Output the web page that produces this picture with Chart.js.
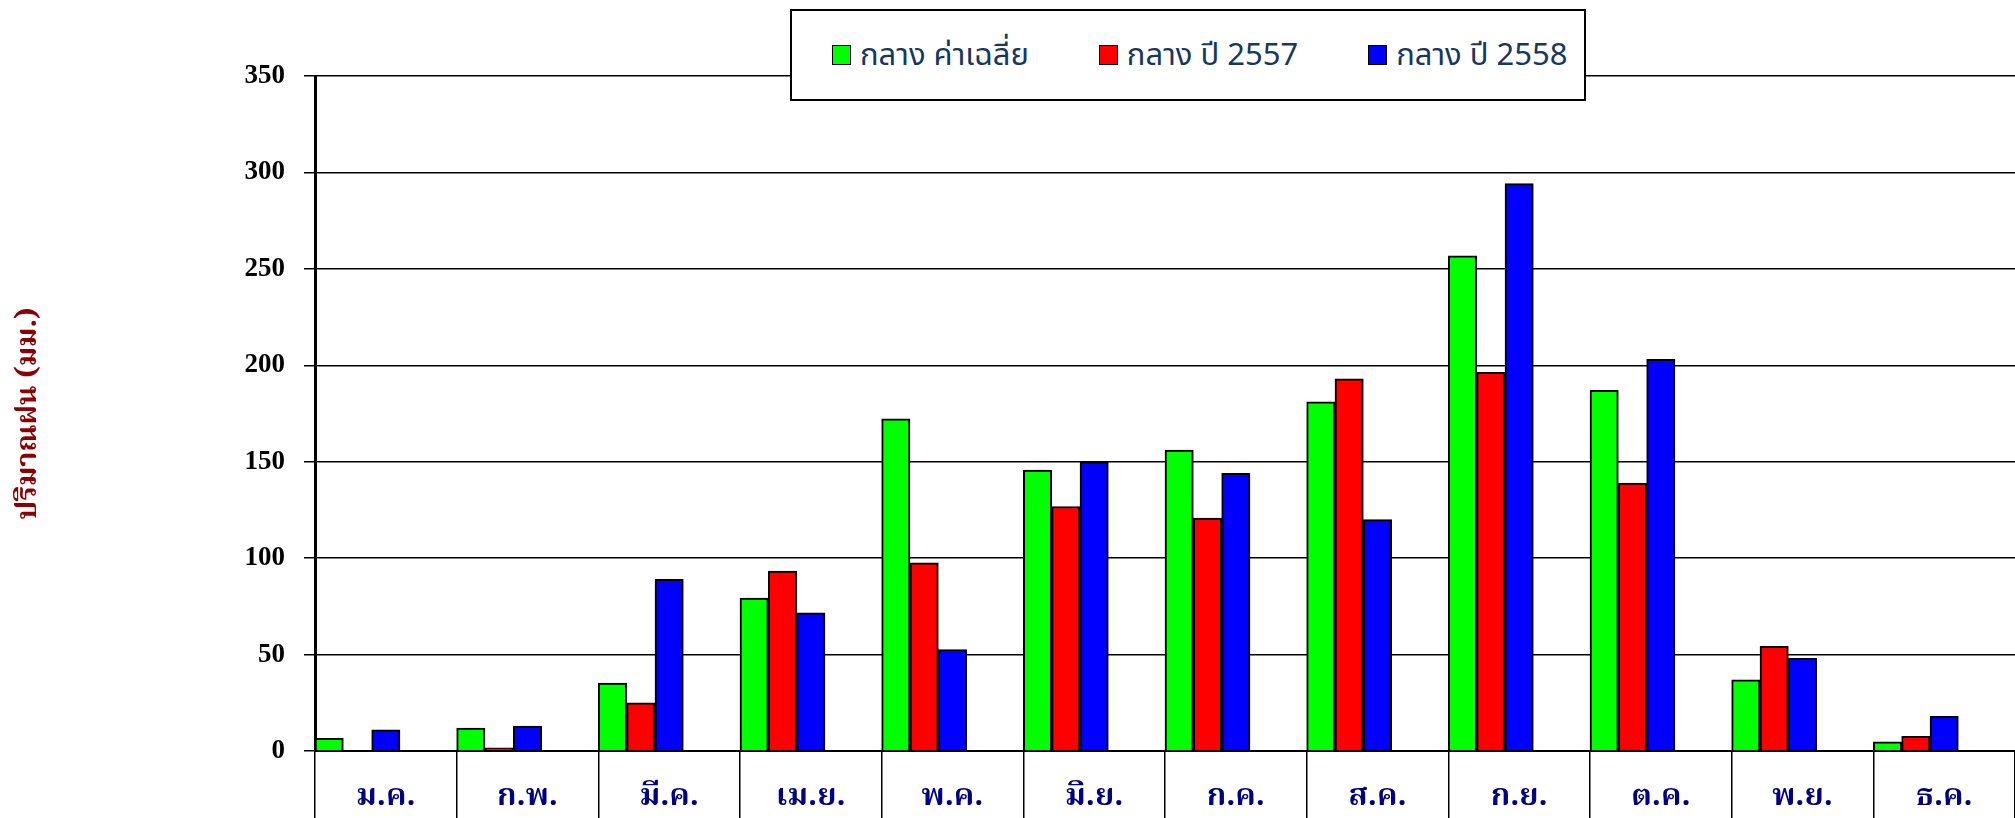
<!DOCTYPE html>
<html>
<head>
<meta charset="utf-8">
<script src="https://cdn.jsdelivr.net/npm/chart.js@4/dist/chart.umd.min.js"></script>
<style>
  html, body { margin: 0; padding: 0; background: #fff; overflow: hidden; }
  #wrap { position: relative; width: 2015px; height: 818px; }
  #legend {
    position: absolute; left: 790px; top: 9px; width: 796px; height: 92px;
    border: 2px solid #000; background: #fff;
    display: flex; align-items: center; padding-left: 40px; box-sizing: border-box;
    font-family: "Liberation Sans Narrow", "Noto Sans Thai", "Loma", "Garuda", sans-serif;
    font-size: 31px; color: #17375e;
  }
  .item { display: flex; align-items: center; margin-right: 70px; white-space: nowrap; }
  .item:last-child { margin-right: 0; }
  .swatch { width: 17px; height: 18px; border: 1.5px solid #000; margin-right: 9px; }
</style>
</head>
<body>
<div id="wrap">
  <canvas id="chart"></canvas>
  <div id="legend"></div>
</div>
<script>
// months (Thai abbreviations)
const months = ["ม.ค.", "ก.พ.", "มี.ค.", "เม.ย.", "พ.ค.", "มิ.ย.", "ก.ค.", "ส.ค.", "ก.ย.", "ต.ค.", "พ.ย.", "ธ.ค."];

// rainfall, mm
const avgRain = [6.6, 11.9, 35.2, 79.3, 172.3, 145.7, 156.0, 181.0, 256.7, 187.0, 36.9, 4.8];
const rain2557 = [0, 1.6, 25.0, 93.3, 97.6, 126.8, 120.8, 193.0, 196.4, 138.9, 54.3, 7.6];
const rain2558 = [11.0, 12.9, 89.0, 71.7, 52.6, 150.0, 144.0, 120.0, 294.2, 203.1, 48.1, 18.0];

const seriesNames = ["กลาง ค่าเฉลี่ย", "กลาง ปี 2557", "กลาง ปี 2558"];
const seriesColors = ["#00ff00", "#ff0000", "#0000ff"];
const yTicks = [0, 50, 100, 150, 200, 250, 300, 350];

const thaiFont = "'Noto Serif Thai', 'Noto Sans Thai', 'Norasi', 'Garuda', 'Loma', serif";

const datasets = [avgRain, rain2557, rain2558].map((vals, i) => ({
  label: seriesNames[i],
  data: vals,
  backgroundColor: seriesColors[i],
  borderColor: "#000",
  borderWidth: 2,
  borderSkipped: "start"
}));
// two empty slots so each group sits at the left of its month, like the original
datasets.push({ label: "", data: [] }, { label: "", data: [] });

new Chart(document.getElementById("chart"), {
  type: "bar",
  data: { labels: months, datasets: datasets },
  options: {
    responsive: true,
    maintainAspectRatio: false,
    animation: false,
    layout: { padding: { top: 76, right: 0, bottom: 0, left: 0 } },
    datasets: { bar: { barPercentage: 1, categoryPercentage: 1 } },
    plugins: { legend: { display: false }, tooltip: { enabled: false } },
    scales: {
      x: {
        afterFit: (scale) => { scale.height = 67; },
        grid: {
          display: true, drawOnChartArea: false, drawTicks: true,
          tickLength: 72, color: "#000", lineWidth: 1.5
        },
        border: { display: true, color: "#000", width: 2 },
        ticks: {
          color: "#000080", padding: -42,
          font: { family: thaiFont, size: 31, weight: "bold" }
        }
      },
      y: {
        min: 0, max: 350,
        afterBuildTicks: (scale) => { scale.ticks = yTicks.map(v => ({ value: v })); },
        afterFit: (scale) => { scale.width = 315; },
        grid: { color: "#000", lineWidth: 1.5, tickLength: 11 },
        border: { display: true, color: "#000", width: 3 },
        ticks: {
          color: "#000", padding: 19,
          font: { family: "'Liberation Serif', 'Times New Roman', serif", size: 27, weight: "bold" }
        },
        title: {
          display: true, text: "ปริมาณฝน (มม.)", color: "#8b0000",
          padding: { top: 14, bottom: 0 },
          font: { family: thaiFont, size: 29, weight: "bold" }
        }
      }
    }
  }
});

// legend box drawn over the top of the plot
const legend = document.getElementById("legend");
seriesNames.forEach((name, i) => {
  const item = document.createElement("div");
  item.className = "item";
  item.innerHTML = `<span class="swatch" style="background:${seriesColors[i]}"></span><span>${name}</span>`;
  legend.appendChild(item);
});
</script>
</body>
</html>
